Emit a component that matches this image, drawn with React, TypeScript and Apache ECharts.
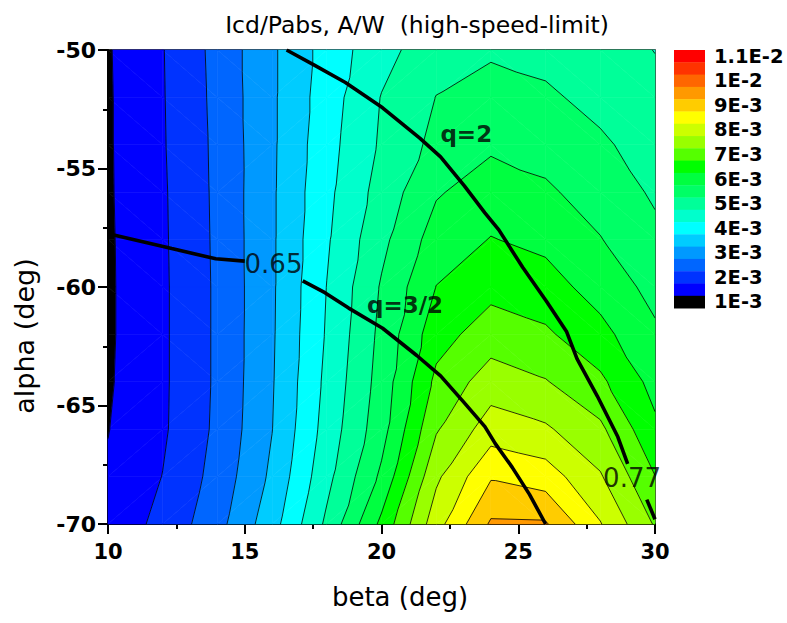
import React, { useEffect, useRef } from 'react';
import * as echarts from 'echarts';

// ---------------- data ----------------
const betaValues = [10, 12, 14, 16, 18, 20, 22, 24, 26, 28, 30];
const alphaValues = [-50, -52, -54, -56, -58, -60, -62, -64, -66, -68, -70];
// Icd/Pabs in units of 1E-3 A/W; one row per alpha (top to bottom), one column per beta
const rowA50 = [0.96, 1.48, 2.15, 2.92, 3.7, 4.33, 4.8, 4.93, 4.85, 4.7, 4.49];
const rowA52 = [0.95, 1.47, 2.13, 2.92, 3.76, 4.52, 5.01, 5.2, 5.08, 4.85, 4.62];
const rowA54 = [0.95, 1.46, 2.11, 2.92, 3.82, 4.57, 5.14, 5.42, 5.33, 5.08, 4.77];
const rowA56 = [0.945, 1.44, 2.1, 2.93, 3.88, 4.7, 5.45, 5.75, 5.57, 5.3, 4.93];
const rowA58 = [0.935, 1.43, 2.09, 2.93, 3.94, 4.87, 5.73, 6.02, 5.88, 5.52, 5.12];
const rowA60 = [0.93, 1.42, 2.08, 2.93, 4.01, 5.05, 6.01, 6.35, 6.2, 5.8, 5.35];
const rowA62 = [0.93, 1.42, 2.08, 2.94, 4.05, 5.13, 6.3, 6.75, 6.58, 6.15, 5.58];
const rowA64 = [0.945, 1.42, 2.08, 2.96, 4.12, 5.2, 6.62, 7.25, 7.03, 6.6, 5.83];
const rowA66 = [0.985, 1.43, 2.1, 2.99, 4.2, 5.3, 6.95, 7.75, 7.57, 7.1, 6.1];
const rowA68 = [1.06, 1.51, 2.18, 3.1, 4.35, 5.6, 7.4, 8.45, 8.25, 7.55, 6.51];
const rowA70 = [1.2, 1.63, 2.33, 3.3, 4.6, 6.12, 7.8, 9.07, 9.05, 8.03, 6.95];
const icdRows = [rowA50, rowA52, rowA54, rowA56, rowA58, rowA60, rowA62, rowA64, rowA66, rowA68, rowA70];

// contour levels (1E-3 units) and band colours (lowest band first)
const contourLevels = [1, 1.5, 2, 2.5, 3, 3.5, 4, 4.5, 5, 5.5, 6, 6.5, 7, 7.5, 8, 8.5, 9, 9.5, 10, 10.5];
const bandColors = [
  '#000000', '#0000FF', '#0033FF', '#0066FF', '#0099FF', '#00CCFF', '#00FFFF',
  '#00FFCC', '#00FF99', '#00FF66', '#00FF40', '#00FF00', '#55FF00', '#99FF00',
  '#CCFF00', '#FFFF00', '#FFCC00', '#FF9900', '#FF6600', '#FF3300', '#FF0000',
];
const legendLabels = ['1.1E-2', '1E-2', '9E-3', '8E-3', '7E-3', '6E-3', '5E-3', '4E-3', '3E-3', '2E-3', '1E-3'];

// thick black curves [beta, alpha]
const curve065Left = [[10, -57.7], [10.21, -57.81], [12.33, -58.38], [13.94, -58.81], [15.0, -58.91]];
const curve065Right = [
  [17.12, -59.74], [17.93, -60.24], [18.8, -60.89], [20.04, -61.74], [21.29, -62.89],
  [22.16, -63.75], [23.03, -64.89], [23.78, -65.89], [24.16, -66.61], [24.78, -67.61],
  [25.41, -68.75], [26.0, -70],
];
const curve077Upper = [
  [16.53, -50], [17.56, -50.65], [18.68, -51.37], [20.04, -52.44], [21.41, -53.73],
  [22.16, -54.51], [23.03, -55.73], [23.78, -56.87], [24.29, -57.59], [25.16, -59.17],
  [26.03, -60.6], [26.77, -61.89], [27.15, -63.03], [27.89, -64.6], [28.64, -66.32], [29.0, -67.46],
];
const curve077Lower = [[29.7, -68.97], [30, -69.8]];
const curveValueLabels = [[16.05, -59.03, '0.65'], [29.16, -68.08, '0.77']];
const curveNameLabels = [[23.1, -53.55, 'q=2'], [20.86, -60.76, 'q=3/2']];

const xTicks = { min: 10, max: 30, step: 5 };
const yTicks = { min: -70, max: -50, step: 5 };

// ---------------- helpers ----------------
type P = [number, number, number];

function clipPoly(poly: P[], level: number, keepAbove: boolean): P[] {
  const out: P[] = [];
  const inside = (p: P) => (keepAbove ? p[2] >= level : p[2] <= level);
  for (let i = 0; i < poly.length; i++) {
    const a = poly[i];
    const b = poly[(i + 1) % poly.length];
    const ia = inside(a);
    const ib = inside(b);
    if (ia) out.push(a);
    if (ia !== ib) {
      const t = (level - a[2]) / (b[2] - a[2]);
      out.push([a[0] + t * (b[0] - a[0]), a[1] + t * (b[1] - a[1]), level]);
    }
  }
  return out;
}

function cellTriangles(api: any, i: number, j: number): P[][] {
  const pt = (ii: number, jj: number): P => {
    const c = api.coord([betaValues[ii], alphaValues[jj]]);
    return [c[0], c[1], icdRows[jj][ii]];
  };
  const A = pt(i, j);
  const B = pt(i + 1, j);
  const C = pt(i + 1, j + 1);
  const D = pt(i, j + 1);
  if (Math.abs(A[2] - C[2]) <= Math.abs(B[2] - D[2])) {
    return [[A, B, C], [A, C, D]];
  }
  return [[A, B, D], [B, C, D]];
}

const cellData: number[][] = [];
for (let j = 0; j < alphaValues.length - 1; j++) {
  for (let i = 0; i < betaValues.length - 1; i++) {
    cellData.push([betaValues[i], alphaValues[j], i, j]);
  }
}

function renderFill(params: any, api: any) {
  const cell = cellData[params.dataIndex];
  const tris = cellTriangles(api, cell[2], cell[3]);
  const children: any[] = [];
  for (const tri of tris) {
    const vmin = Math.min(tri[0][2], tri[1][2], tri[2][2]);
    const vmax = Math.max(tri[0][2], tri[1][2], tri[2][2]);
    for (let k = 0; k < bandColors.length; k++) {
      const lo = k === 0 ? -Infinity : contourLevels[k - 1];
      const hi = k === bandColors.length - 1 ? Infinity : contourLevels[k];
      if (vmax < lo || vmin > hi) continue;
      let poly: P[] = tri;
      if (isFinite(lo)) poly = clipPoly(poly, lo, true);
      if (poly.length >= 3 && isFinite(hi)) poly = clipPoly(poly, hi, false);
      if (poly.length < 3) continue;
      children.push({
        type: 'polygon',
        silent: true,
        shape: { points: poly.map((p) => [p[0], p[1]]) },
        style: { fill: bandColors[k], stroke: bandColors[k], lineWidth: 0.6 },
      });
    }
  }
  return { type: 'group', children };
}

function renderLines(params: any, api: any) {
  const cell = cellData[params.dataIndex];
  const tris = cellTriangles(api, cell[2], cell[3]);
  const children: any[] = [];
  for (const tri of tris) {
    for (const L of contourLevels) {
      const pts: number[][] = [];
      for (let e = 0; e < 3; e++) {
        const a = tri[e];
        const b = tri[(e + 1) % 3];
        if ((a[2] >= L) !== (b[2] >= L)) {
          const t = (L - a[2]) / (b[2] - a[2]);
          pts.push([a[0] + t * (b[0] - a[0]), a[1] + t * (b[1] - a[1])]);
        }
      }
      if (pts.length === 2) {
        children.push({
          type: 'line',
          silent: true,
          shape: { x1: pts[0][0], y1: pts[0][1], x2: pts[1][0], y2: pts[1][1] },
          style: { stroke: '#000', lineWidth: 0.8 },
        });
      }
    }
  }
  return { type: 'group', children };
}

const FONT = 'DejaVu Sans';

export default function App() {
  const ref = useRef<HTMLDivElement>(null);
  useEffect(() => {
    if (!ref.current) return;
    const chart = echarts.init(ref.current, undefined, { renderer: 'svg' });

    const boxTop = 50;
    const boxH = 12.29;
    const legendGraphics: any[] = [];
    const topDown = bandColors.slice().reverse();
    topDown.forEach((c, k) => {
      legendGraphics.push({
        type: 'rect',
        shape: { x: 674, y: boxTop + k * boxH, width: 31, height: boxH + 0.4 },
        style: { fill: c },
        silent: true,
      });
    });
    legendLabels.forEach((t, m) => {
      legendGraphics.push({
        type: 'text',
        x: 714,
        y: boxTop + 2 * m * boxH + boxH / 2,
        style: {
          text: t, fill: '#000', font: `bold 19.5px "${FONT}"`,
          textAlign: 'left', textVerticalAlign: 'middle',
        },
        silent: true,
      });
    });

    const blackLine = (data: number[][]) => ({
      type: 'line',
      data,
      symbol: 'none',
      lineStyle: { color: '#000', width: 3.6 },
      z: 5,
      silent: true,
    });

    const axisCommon = {
      axisLine: { show: true, onZero: false, lineStyle: { color: '#000', width: 2 } },
      axisTick: { show: true, inside: false, length: 10, lineStyle: { color: '#000', width: 2 } },
      minorTick: { show: true, splitNumber: 2, length: 5, lineStyle: { color: '#000', width: 2 } },
      splitLine: { show: false },
    };

    chart.setOption({
      animation: false,
      backgroundColor: '#fff',
      title: {
        text: 'Icd/Pabs, A/W  (high-speed-limit)',
        left: 412,
        textAlign: 'center',
        top: 8,
        textStyle: { fontFamily: FONT, fontSize: 23.5, fontWeight: 'normal', color: '#000' },
      },
      grid: { left: 108, right: 132, top: 50, bottom: 99, show: true, borderColor: '#000', borderWidth: 1.5, backgroundColor: 'transparent' },
      xAxis: {
        type: 'value',
        min: xTicks.min,
        max: xTicks.max,
        interval: xTicks.step,
        name: 'beta (deg)',
        nameLocation: 'middle',
        nameGap: 60,
        nameTextStyle: { fontFamily: FONT, fontSize: 26, color: '#000', padding: [0, 0, 0, 37] },
        axisLabel: { fontFamily: FONT, fontSize: 21, fontWeight: 'bold', color: '#000', margin: 17 },
        ...axisCommon,
      },
      yAxis: {
        type: 'value',
        min: yTicks.min,
        max: yTicks.max,
        interval: yTicks.step,
        name: 'alpha (deg)',
        nameLocation: 'middle',
        nameGap: 70,
        nameRotate: 90,
        nameTextStyle: { fontFamily: FONT, fontSize: 27, color: '#000', padding: [0, 98, 0, 0] },
        axisLabel: { fontFamily: FONT, fontSize: 22, fontWeight: 'bold', color: '#000', margin: 12 },
        ...axisCommon,
      },
      series: [
        {
          type: 'custom',
          data: cellData,
          encode: { x: 0, y: 1 },
          renderItem: renderFill,
          silent: true,
          z: 1,
        },
        {
          type: 'custom',
          data: cellData,
          encode: { x: 0, y: 1 },
          renderItem: renderLines,
          silent: true,
          z: 2,
        },
        blackLine(curve065Left),
        blackLine(curve065Right),
        blackLine(curve077Upper),
        blackLine(curve077Lower),
        {
          type: 'scatter',
          data: curveValueLabels,
          symbolSize: 0,
          z: 6,
          silent: true,
          label: {
            show: true, position: 'inside', formatter: (p: any) => p.value[2],
            fontFamily: FONT, fontSize: 26, color: '#000',
          },
        },
        {
          type: 'scatter',
          data: curveNameLabels,
          symbolSize: 0,
          z: 6,
          silent: true,
          label: {
            show: true, position: 'inside', formatter: (p: any) => p.value[2],
            fontFamily: FONT, fontSize: 23, fontWeight: 'bold', color: '#000',
          },
        },
      ],
      graphic: legendGraphics,
    });
    return () => chart.dispose();
  }, []);
  return <div ref={ref} style={{ position: 'fixed', left: 0, top: 0, width: 787, height: 623 }} />;
}
